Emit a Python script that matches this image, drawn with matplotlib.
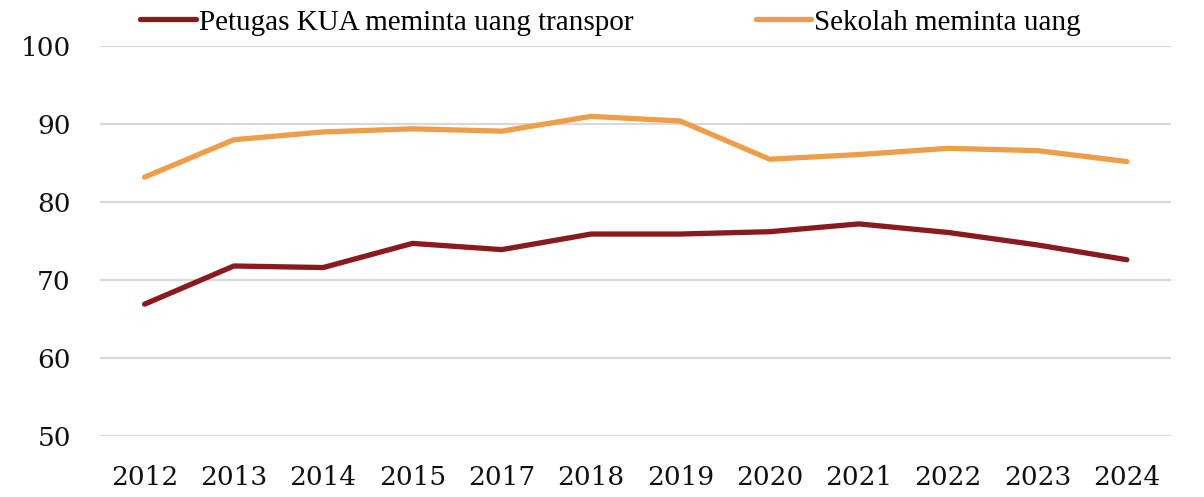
import matplotlib.pyplot as plt

years = ["2012", "2013", "2014", "2015", "2017", "2018", "2019", "2020", "2021", "2022", "2023", "2024"]
kua = [66.9, 71.8, 71.6, 74.7, 73.9, 75.9, 75.9, 76.2, 77.2, 76.1, 74.5, 72.6]
sekolah = [83.2, 88.0, 89.0, 89.4, 89.1, 91.0, 90.4, 85.5, 86.1, 86.9, 86.6, 85.2]
yticks = [50, 60, 70, 80, 90, 100]

plt.rcParams['font.family'] = ['Liberation Serif', 'DejaVu Serif']

fig = plt.figure(figsize=(12.04, 4.97), dpi=100)
ax = fig.add_axes([0.083, 0.123, 0.890, 0.784])

x = list(range(len(years)))
ax.plot(x, kua, color="#8A1A1D", lw=3.8, solid_capstyle="round", label="Petugas KUA meminta uang transpor")
ax.plot(x, sekolah, color="#EE9D48", lw=3.8, solid_capstyle="round", label="Sekolah meminta uang")

ax.set_xlim(-0.5, len(years) - 0.5)
ax.set_ylim(50, 100)
ax.set_xticks(x)
ax.set_xticklabels(years)
ax.set_yticks(yticks)
ax.tick_params(axis="both", length=0, colors="#111111")
ax.tick_params(axis="x", pad=21)
ax.tick_params(axis="y", pad=21)
for lbl in ax.get_xticklabels() + ax.get_yticklabels():
    lbl.set_fontfamily("DejaVu Serif")
    lbl.set_fontsize(19)
ax.grid(axis="y", color="#D9D9D9", lw=1.6)
ax.set_axisbelow(True)
for s in ax.spines.values():
    s.set_visible(False)

fig.legend(loc="center", bbox_to_anchor=(0.507, 0.955), ncol=2, frameon=False,
           fontsize=21, handlelength=1.9, handletextpad=0.1, columnspacing=4.2)

fig.savefig("out.png", dpi=100)
